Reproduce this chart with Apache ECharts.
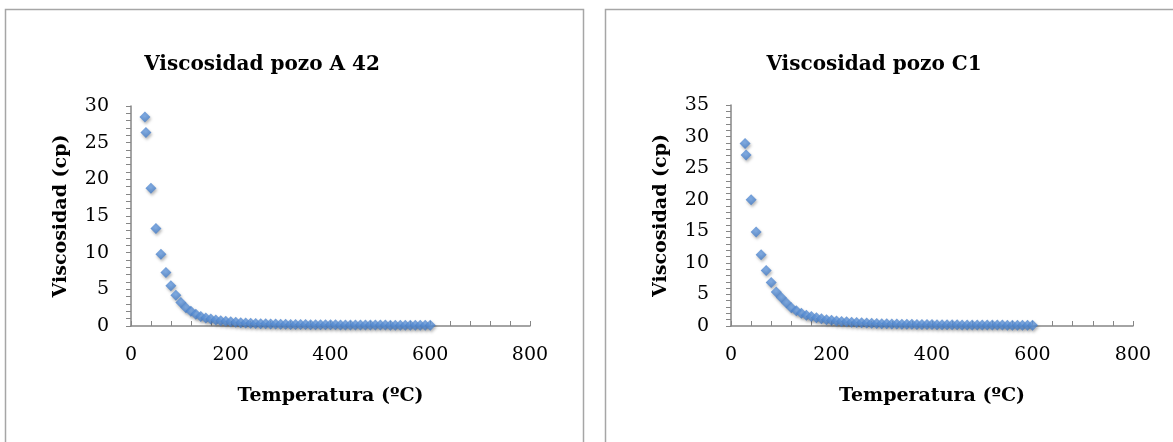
<!DOCTYPE html>
<html>
<head>
<meta charset="utf-8">
<script src="https://cdn.jsdelivr.net/npm/echarts@6/dist/echarts.min.js"></script>
<style>
html,body{margin:0;padding:0;background:#fff;}
#c{width:1173px;height:442px;}
</style>
</head>
<body>
<div id="c"></div>
<script>
const temps = [28,30,40,50,60,70,80,90,100,110,120,130,140,150,160,170,180,190,200,210,220,230,240,250,260,270,280,290,300,310,320,330,340,350,360,370,380,390,400,410,420,430,440,450,460,470,480,490,500,510,520,530,540,550,560,570,580,590,600];
const viscA42 = [28.5,26.4,18.8,13.3,9.8,7.3,5.5,4.2,3.2,2.5,2.0,1.6,1.3,1.1,0.95,0.82,0.72,0.64,0.57,0.51,0.46,0.42,0.38,0.35,0.32,0.30,0.28,0.26,0.24,0.23,0.22,0.21,0.20,0.19,0.18,0.175,0.17,0.165,0.16,0.155,0.15,0.145,0.14,0.137,0.134,0.131,0.128,0.125,0.122,0.12,0.118,0.116,0.114,0.112,0.11,0.108,0.106,0.104,0.10];
const viscC1 = [28.9,27.1,20.0,14.9,11.3,8.8,6.9,5.4,4.5,3.7,2.9,2.4,2.0,1.7,1.5,1.3,1.15,1.0,0.9,0.81,0.73,0.66,0.6,0.55,0.5,0.46,0.43,0.4,0.37,0.35,0.33,0.31,0.29,0.28,0.26,0.25,0.24,0.23,0.22,0.21,0.2,0.195,0.19,0.18,0.175,0.17,0.165,0.16,0.155,0.15,0.147,0.144,0.14,0.137,0.134,0.13,0.127,0.124,0.12];
const titles = ['Viscosidad pozo A 42','Viscosidad pozo C1'];
const xName = 'Temperatura (ºC)';
const yName = 'Viscosidad (cp)';

const FONT = '"DejaVu Serif", "Liberation Serif", serif';
const axisColor = '#868686';

function xAxis(gi){
  return {
    gridIndex: gi, type:'value', min:0, max:800, interval:200,
    name: xName, nameLocation:'middle', nameGap:61,
    nameTextStyle:{fontFamily:FONT,fontWeight:'bold',fontSize:19,color:'#000'},
    axisLine:{show:true,lineStyle:{color:axisColor,width:1.5}},
    axisTick:{show:true,inside:true,length:5,lineStyle:{color:axisColor}},
    minorTick:{show:true,splitNumber:5,length:5,lineStyle:{color:axisColor}},
    splitLine:{show:false},
    axisLabel:{fontFamily:FONT,fontSize:19,color:'#000',margin:20}
  };
}
function yAxis(gi,max){
  return {
    gridIndex: gi, type:'value', min:0, max:max, interval:5,
    name: yName, nameLocation:'middle', nameGap:60, nameRotate:90,
    nameTextStyle:{fontFamily:FONT,fontWeight:'bold',fontSize:19,color:'#000'},
    axisLine:{show:true,lineStyle:{color:axisColor,width:1.5}},
    axisTick:{show:true,inside:false,length:5,lineStyle:{color:axisColor}},
    minorTick:{show:true,splitNumber:5,length:5,lineStyle:{color:axisColor}},
    splitLine:{show:false},
    axisLabel:{fontFamily:FONT,fontSize:19,color:'#000',margin:22}
  };
}
const marker = {
  color: {type:'radial',x:0.5,y:0.45,r:0.6,colorStops:[{offset:0,color:'#6ea2e4'},{offset:1,color:'#3a74c2'}]},
  shadowBlur:3, shadowColor:'rgba(0,0,0,0.35)', shadowOffsetY:2, shadowOffsetX:1
};
function pairs(xs, ys){ return xs.map((t,i)=>[t,ys[i]]); }

const chart = echarts.init(document.getElementById('c'));
chart.setOption({
  backgroundColor:'#fff',
  animation:false,
  title:[
    {text:titles[0], left:257, top:50, textAlign:'center', textStyle:{fontFamily:FONT,fontWeight:'bold',fontSize:20,color:'#000'}},
    {text:titles[1], left:869, top:50, textAlign:'center', textStyle:{fontFamily:FONT,fontWeight:'bold',fontSize:20,color:'#000'}}
  ],
  graphic:[
    {type:'rect', shape:{x:5.5,y:9.5,width:578,height:440}, style:{fill:'none',stroke:'#a6a6a6',lineWidth:1.5}},
    {type:'rect', shape:{x:605.5,y:9.5,width:600,height:440}, style:{fill:'none',stroke:'#a6a6a6',lineWidth:1.5}}
  ],
  grid:[
    {left:131, right:1173-530, top:106, bottom:442-326},
    {left:731, right:1173-1133, top:105, bottom:442-326}
  ],
  xAxis:[xAxis(0), xAxis(1)],
  yAxis:[yAxis(0,30), yAxis(1,35)],
  series:[
    {type:'scatter', xAxisIndex:0, yAxisIndex:0, symbol:'diamond', symbolSize:11, data:pairs(temps,viscA42), itemStyle:marker},
    {type:'scatter', xAxisIndex:1, yAxisIndex:1, symbol:'diamond', symbolSize:11, data:pairs(temps,viscC1), itemStyle:marker}
  ]
});
</script>
</body>
</html>
